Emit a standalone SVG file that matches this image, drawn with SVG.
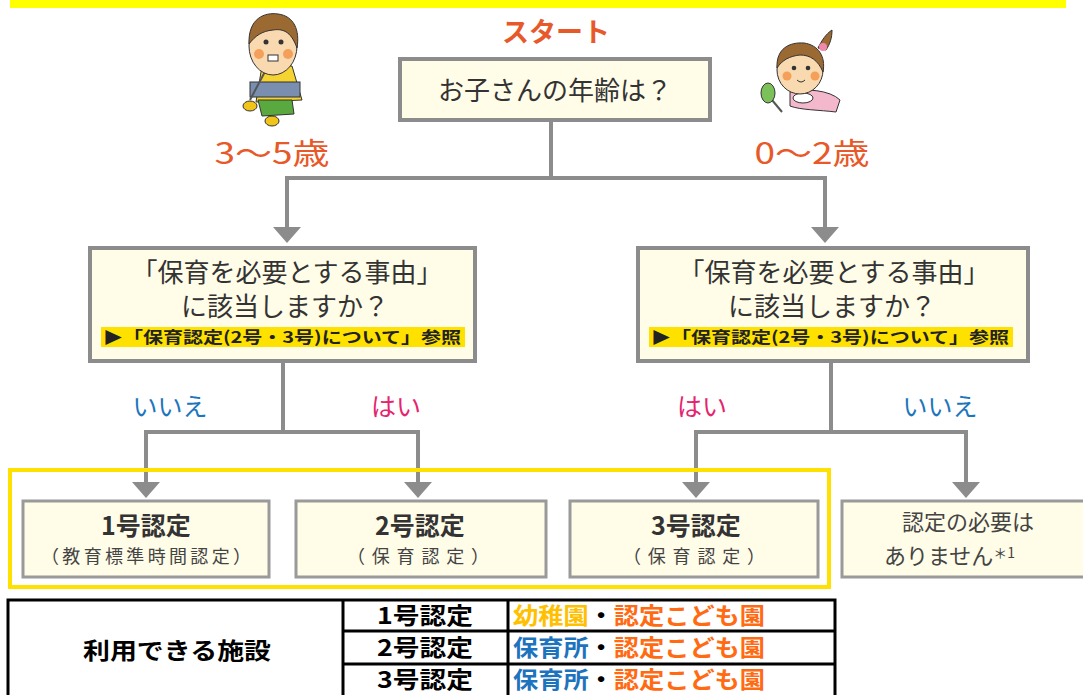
<svg xmlns="http://www.w3.org/2000/svg" width="1083" height="695" viewBox="0 0 1083 695">
<style>
.jp{font-family:"Noto Sans CJK JP","Noto Sans",sans-serif;}
.box{fill:#fffce8;stroke:#8c8c8c;stroke-width:4;}
.rbox{fill:#fffce8;stroke:#9a9a9a;stroke-width:3;}
.con{fill:none;stroke:#8c8c8c;stroke-width:4;}
.q{font-size:26px;fill:#333;text-anchor:middle;}
.ref{font-size:16px;font-weight:bold;fill:#222;}
.age{font-size:30px;fill:#e8592a;text-anchor:middle;}
.yes{font-size:25px;fill:#e5246e;text-anchor:middle;}
.no{font-size:25px;fill:#1c76bc;text-anchor:middle;}
.rt{font-size:25px;font-weight:bold;fill:#333;text-anchor:middle;}
.rs{font-size:18px;fill:#444;text-anchor:middle;}
.tb{fill:none;stroke:#000;stroke-width:3;}
.tt{font-size:23px;font-weight:bold;fill:#000;}
</style>
<defs>
<marker id="arr" viewBox="0 0 16 28" markerWidth="16" markerHeight="28" refX="4" refY="14" orient="auto" markerUnits="userSpaceOnUse">
<path d="M0,0 L16,14 L0,28 z" fill="#8c8c8c"/>
</marker>
</defs>
<rect x="10" y="0" width="1056" height="8" fill="#ffff00"/>

<g id="boy">
<path d="M262,66 L292,66 L302,100 L256,102 z" fill="#f5d431" stroke="#333" stroke-width="1"/>
<rect x="250" y="82" width="50" height="15" fill="#7a8fb0" stroke="#333" stroke-width="1"/>
<path d="M258,100 L292,100 L294,114 L262,116 z" fill="#5aa93e" stroke="#333" stroke-width="1"/>
<ellipse cx="250" cy="106" rx="7" ry="5" fill="#f0c419" stroke="#333" stroke-width="1"/>
<ellipse cx="272" cy="121" rx="7" ry="5" fill="#f0c419" stroke="#333" stroke-width="1"/>
<line x1="268" y1="66" x2="250" y2="100" stroke="#555" stroke-width="2"/>
<ellipse cx="273" cy="46" rx="24" ry="29" fill="#f8d9b0" stroke="#333" stroke-width="1"/>
<path d="M249,44 C248,18 265,12 278,14 C294,16 300,30 297,48 C292,34 285,28 273,30 C262,31 255,36 249,44 z" fill="#9b6a32" stroke="#333" stroke-width="1"/>
<circle cx="266" cy="42" r="2.5" fill="#333"/>
<circle cx="281" cy="42" r="2.5" fill="#333"/>
<circle cx="259" cy="54" r="5" fill="#f5a05a"/>
<circle cx="288" cy="54" r="5" fill="#f5a05a"/>
<rect x="268" y="55" width="10" height="6" fill="#fff" stroke="#333" stroke-width="1"/>
</g>

<g id="girl">
<path d="M790,92 C805,88 830,90 840,100 L836,112 C820,110 800,110 790,106 z" fill="#f3b8cc" stroke="#333" stroke-width="1"/>
<ellipse cx="803" cy="98" rx="10" ry="5" fill="#fff" stroke="#333" stroke-width="1"/>
<line x1="772" y1="100" x2="782" y2="112" stroke="#555" stroke-width="2"/>
<ellipse cx="768" cy="93" rx="7" ry="10" fill="#7cc05a" stroke="#333" stroke-width="1"/>
<ellipse cx="800" cy="70" rx="23" ry="24" fill="#f8d9b0" stroke="#333" stroke-width="1"/>
<path d="M777,68 C776,48 790,42 804,43 C818,45 826,56 823,72 C818,60 810,55 800,55 C790,56 782,60 777,68 z" fill="#9b6a32" stroke="#333" stroke-width="1"/>
<path d="M818,48 C822,40 826,34 832,30 C832,38 830,44 826,50 z" fill="#9b6a32" stroke="#333" stroke-width="1"/>
<circle cx="823" cy="47" r="4" fill="#f08aaa"/>
<circle cx="794" cy="68" r="2.3" fill="#333"/>
<circle cx="808" cy="68" r="2.3" fill="#333"/>
<circle cx="787" cy="76" r="4.5" fill="#f5a05a"/>
<circle cx="815" cy="76" r="4.5" fill="#f5a05a"/>
<path d="M797,80 Q801,84 805,80" fill="none" stroke="#333" stroke-width="1"/>
</g>

<g id="connectors">
<path class="con" d="M551,122 V178 H287 V231" marker-end="url(#arr)"/>
<path class="con" d="M551,178 H825 V231" marker-end="url(#arr)"/>
<path class="con" d="M283,362 V432 H146 V486" marker-end="url(#arr)"/>
<path class="con" d="M283,432 H418 V486" marker-end="url(#arr)"/>
<path class="con" d="M831,362 V432 H696 V486" marker-end="url(#arr)"/>
<path class="con" d="M831,432 H966 V486" marker-end="url(#arr)"/>
<text class="jp age" x="272" y="164" textLength="115" lengthAdjust="spacingAndGlyphs">3～5歳</text>
<text class="jp age" x="812" y="164" textLength="115" lengthAdjust="spacingAndGlyphs">0～2歳</text>
<text class="jp no" x="170" y="416">いいえ</text>
<text class="jp yes" x="396" y="416">はい</text>
<text class="jp yes" x="702" y="416">はい</text>
<text class="jp no" x="940" y="416">いいえ</text>
</g>

<g id="start">
<text class="jp" x="556" y="42" font-size="27" font-weight="bold" fill="#e8592a" text-anchor="middle">スタート</text>
<rect class="box" x="400" y="59" width="310" height="61"/>
<text class="jp q" x="555" y="100">お子さんの年齢は？</text>
</g>

<g id="q-left">
<rect class="box" x="90" y="248" width="385" height="113"/>
<text class="jp q" x="287" y="282">「保育を必要とする事由」</text>
<text class="jp q" x="285" y="316">に該当しますか？</text>
<rect x="101" y="327" width="364" height="20" fill="#ffe100"/>
<text class="jp ref" x="103" y="343" textLength="358" lengthAdjust="spacingAndGlyphs">▶「保育認定(2号・3号)について」参照</text>
</g>

<g id="q-right">
<rect class="box" x="638" y="248" width="390" height="113"/>
<text class="jp q" x="834" y="282">「保育を必要とする事由」</text>
<text class="jp q" x="832" y="316">に該当しますか？</text>
<rect x="649" y="327" width="364" height="20" fill="#ffe100"/>
<text class="jp ref" x="651" y="343" textLength="358" lengthAdjust="spacingAndGlyphs">▶「保育認定(2号・3号)について」参照</text>
</g>

<rect x="10" y="470" width="819" height="117" fill="none" stroke="#ffe100" stroke-width="4"/>

<g id="r1">
<rect class="rbox" x="23" y="501" width="246" height="76"/>
<text class="jp rt" x="146" y="535">1号認定</text>
<text class="jp rs" x="146" y="563" textLength="210">（教育標準時間認定）</text>
</g>
<g id="r2">
<rect class="rbox" x="296" y="501" width="250" height="76"/>
<text class="jp rt" x="420" y="535">2号認定</text>
<text class="jp rs" x="418" y="563" textLength="142">（保育認定）</text>
</g>
<g id="r3">
<rect class="rbox" x="570" y="501" width="248" height="76"/>
<text class="jp rt" x="696" y="535">3号認定</text>
<text class="jp rs" x="694" y="563" textLength="142">（保育認定）</text>
</g>
<g id="r4">
<rect class="rbox" x="842" y="501" width="250" height="76"/>
<text class="jp" x="968" y="530" font-size="22" fill="#444" text-anchor="middle">認定の必要は</text>
<text class="jp" x="884" y="564" font-size="22" fill="#444">ありません<tspan font-size="14" dy="-6">＊1</tspan></text>
</g>

<g id="table">
<rect class="tb" x="8" y="600" width="827" height="100"/>
<line class="tb" x1="343" y1="600" x2="343" y2="695"/>
<line class="tb" x1="508" y1="600" x2="508" y2="695"/>
<line class="tb" x1="343" y1="631" x2="835" y2="631"/>
<line class="tb" x1="343" y1="664" x2="835" y2="664"/>
<text class="jp tt" x="177" y="659" text-anchor="middle" font-size="27" textLength="188" lengthAdjust="spacingAndGlyphs">利用できる施設</text>
<text class="jp tt" x="425" y="624" text-anchor="middle" textLength="96" lengthAdjust="spacingAndGlyphs">1号認定</text>
<text class="jp tt" x="425" y="656" text-anchor="middle" textLength="96" lengthAdjust="spacingAndGlyphs">2号認定</text>
<text class="jp tt" x="425" y="688" text-anchor="middle" textLength="96" lengthAdjust="spacingAndGlyphs">3号認定</text>
<text class="jp tt" x="513" y="624" textLength="252" lengthAdjust="spacingAndGlyphs"><tspan fill="#ffc000">幼稚園</tspan><tspan fill="#000">・</tspan><tspan fill="#ff6a13">認定こども園</tspan></text>
<text class="jp tt" x="513" y="656" textLength="252" lengthAdjust="spacingAndGlyphs"><tspan fill="#1e73be">保育所</tspan><tspan fill="#000">・</tspan><tspan fill="#ff6a13">認定こども園</tspan></text>
<text class="jp tt" x="513" y="688" textLength="252" lengthAdjust="spacingAndGlyphs"><tspan fill="#1e73be">保育所</tspan><tspan fill="#000">・</tspan><tspan fill="#ff6a13">認定こども園</tspan></text>
</g>
</svg>
